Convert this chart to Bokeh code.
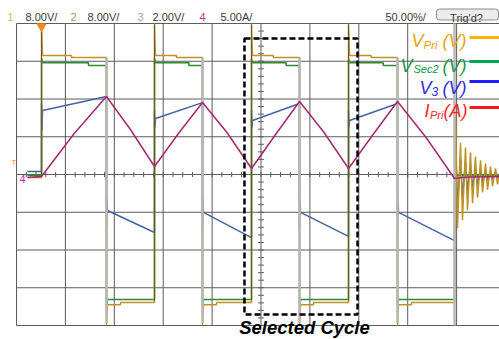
from bokeh.plotting import figure
from bokeh.models import Range1d, Label, BoxAnnotation
from bokeh.embed import file_html
from bokeh.resources import INLINE

# ---------------- data ----------------
us_per_div = 50.0
vpri_per_div = 8.0
vsec_per_div = 8.0
v3_per_div = 2.0
ipri_per_div = 5.0

header_channels = ["1", "2", "3", "4"]
header_scales = ["8.00V/", "8.00V/", "2.00V/", "5.00A/"]
timebase_text = "50.00%/"
trig_text = "Trig'd?"

# switching instants (us); segments alternate: high, low, high, low ...
trace_start = -238.8
seg_start = [-224.4, -158.0, -108.9, -59.8, -9.7, 39.4, 89.5, 139.6]
seg_end = [-158.0, -108.9, -59.8, -9.7, 39.4, 89.5, 139.6, 197.9]

# V_Pri (V)
vpri_pre = -0.64
vpri_spike = [32.0, -32.0, 32.0, -32.0, 32.0, -32.0, 32.0, -32.0]
vpri_lvl_a = [25.2, -27.6, 25.2, -27.6, 25.2, -27.6, 25.2, -27.6]
vpri_step_t = [-193.8, -143.7, -86.5, -45.5, 12.6, 53.7, 112.5, 153.9]
vpri_lvl_b = [24.8, -27.1, 24.8, -27.1, 24.8, -27.1, 24.8, -27.1]
ring_t = [198.9, 200.9, 204.0, 206.0, 209.1, 211.1, 214.2, 216.3, 219.3, 221.4,
          224.5, 226.5, 229.6, 231.6, 234.7, 236.7, 239.8, 241.8, 244.9]
vpri_ring = [12.5, -11.4, 6.8, -9.7, 5.7, -7.6, 4.7, -6.1, 3.8, -4.9,
             3.0, -3.8, 2.3, -3.2, 1.7, -2.5, 1.3, -2.1, 0.8]

# V_Sec2 (V)
vsec_pre = -0.21
vsec_spike = [24.6, -27.8, 24.6, -27.8, 24.6, -27.8, 24.6, -27.8]
vsec_lvl_a = [23.7, -26.5, 23.7, -26.5, 23.7, -26.5, 23.7, -26.5]
vsec_step_t = [-176.4, -133.0, -73.7, -35.0, 25.7, 64.0, 125.0, 168.0]
vsec_lvl_b = [23.1, -26.5, 23.1, -26.5, 23.1, -26.5, 23.1, -26.5]
vsec_tail = -0.21

# V_3 (V)
v3_pre = 0.16
v3_spike1 = [3.76, -2.86, 3.39, -2.86, 3.39, -2.86, 3.39, -2.86]
v3_spike2 = [2.33, -1.27, 2.49, -1.27, 2.49, -1.27, 2.49, -1.27]
v3_start = [3.39, -1.91, 2.97, -2.01, 2.86, -2.01, 2.86, -2.01]
v3_end = [4.13, -3.07, 3.81, -3.34, 3.76, -3.28, 3.76, -3.50]
v3_ring = [1.80, -1.64, 0.85, -1.17, 0.64, -0.90, 0.48, -0.69, 0.37, -0.53,
           0.26, -0.42, 0.21, -0.32, 0.16, -0.26, 0.11, -0.21, 0.05]

# I_Pri (A)
ipri_t = [-238.8, -224.4, -191.0, -158.0, -133.5, -108.9, -84.4, -59.8, -34.8, -9.7,
          14.9, 39.4, 64.5, 89.5, 114.6, 139.6, 168.8, 197.9, 205.0, 215.0, 245.0]
ipri_v = [-0.40, -0.26, 5.43, 10.33, 5.96, 1.06, 5.43, 9.54, 5.56, 0.79,
          5.30, 9.67, 5.56, 0.79, 5.30, 9.67, 4.90, -0.53, -0.40, -0.33, -0.26]

# selected cycle window (us)
sel_t0, sel_t1 = -16.9, 98.7

legend_names = [("V", "Pri", "(V)"), ("V", "Sec2", "(V)"), ("V", "3", "(V)"), ("I", "Pri", "(A)")]
legend_text_colors = ["#e5a50f", "#12984a", "#2c2ce6", "#ff2424"]
legend_line_colors = ["#f7b500", "#00a54f", "#1f1fff", "#ff1a1a"]
trace_colors = {"vpri": "#bf9226", "vsec": "#2c8c2c", "v3": "#4463a3", "ipri": "#a3296f"}

# ---------------- geometry helpers (reference pixel -> data) ----------------
W, H = 499, 339
XC, XD = 260.5, 48.9
YC, YD = 174.0, 37.75


def sx(px):
    return (px - XC) / XD * us_per_div


def sy(py):
    return (YC - py) / YD


def stepped(pre, spikes, lvl_a, step_t, lvl_b):
    xs, ys = [trace_start, seg_start[0]], [pre, pre]
    for i in range(len(seg_start)):
        t0, t1 = seg_start[i], seg_end[i]
        xs += [t0, t0 + 1.0, step_t[i], step_t[i], t1]
        ys += [spikes[i], lvl_a[i], lvl_a[i], lvl_b[i], lvl_b[i]]
    return xs, ys


p = figure(width=W, height=H, output_backend="svg", toolbar_location=None,
           x_range=Range1d(sx(0), sx(W)), y_range=Range1d(sy(H), sy(0)),
           min_border=0, x_axis_type=None, y_axis_type=None,
           outline_line_color=None, background_fill_color="white", border_fill_color="white")

# grid
gx = [k * us_per_div for k in range(-5, 6)]
p.segment(x0=gx, y0=[-4] * len(gx), x1=gx, y1=[4] * len(gx), line_color="#5c5c5c", line_width=1)
gy = list(range(-4, 5))
p.segment(x0=[-5 * us_per_div] * len(gy), y0=gy, x1=[5 * us_per_div] * len(gy), y1=gy,
          line_color="#5c5c5c", line_width=1)
# centre-line minor ticks
tx = [-250 + 10 * i for i in range(51)]
p.segment(x0=tx, y0=[-0.07] * len(tx), x1=tx, y1=[0.07] * len(tx), line_color="#5c5c5c", line_width=1)
ty = [-4 + 0.2 * i for i in range(41)]
p.segment(x0=[-3.0] * len(ty), y0=ty, x1=[3.0] * len(ty), y1=ty, line_color="#5c5c5c", line_width=1)

# traces
bx, by = [], []
bx += [trace_start, seg_start[0]]
by += [v3_pre, v3_pre]
for i in range(len(seg_start)):
    t0, t1 = seg_start[i], seg_end[i]
    bx += [t0, t0 + 0.5, t0 + 1.0, t1]
    by += [v3_spike1[i], v3_spike2[i], v3_start[i], v3_end[i]]
bx += ring_t
by += v3_ring
p.line(bx, [v / v3_per_div for v in by], line_color=trace_colors["v3"], line_width=1.5)

gxs, gys = stepped(vsec_pre, vsec_spike, vsec_lvl_a, vsec_step_t, vsec_lvl_b)
gxs += [seg_end[-1], ring_t[-1]]
gys += [vsec_tail, vsec_tail]
p.line(gxs, [v / vsec_per_div for v in gys], line_color=trace_colors["vsec"], line_width=1.5)

yxs, yys = stepped(vpri_pre, vpri_spike, vpri_lvl_a, vpri_step_t, vpri_lvl_b)
yxs += ring_t
yys += vpri_ring
p.line(yxs, [v / vpri_per_div for v in yys], line_color=trace_colors["vpri"], line_width=1.5)

# faint fast edges (falling) and dark rising edges
fall = [seg_start[i] for i in (1, 3, 5, 7)]
p.segment(x0=fall, y0=[sy(57)] * 4, x1=fall, y1=[sy(322)] * 4, line_color="#b8b8b8", line_width=2.5)
p.segment(x0=[seg_end[-1]], y0=[4], x1=[seg_end[-1]], y1=[-4], line_color="#b8b8b8", line_width=2.5)
rise = [seg_start[i] for i in (2, 4, 6)]
p.segment(x0=rise, y0=[sy(24)] * 3, x1=rise, y1=[sy(300)] * 3, line_color="#5e5a36", line_width=1)
p.segment(x0=[seg_start[0]], y0=[sy(24)], x1=[seg_start[0]], y1=[sy(176)], line_color="#5e5a36", line_width=1)

p.line(ipri_t, [v / ipri_per_div for v in ipri_v], line_color=trace_colors["ipri"], line_width=1.5)

# trigger marker
p.scatter(x=[seg_start[0]], y=[sy(26)], marker="inverted_triangle", size=9,
          fill_color="#f08a24", line_color="#f08a24")

# selected cycle box
p.add_layout(BoxAnnotation(left=sel_t0, right=sel_t1, top=sy(38), bottom=sy(314),
                           fill_alpha=0, line_color="black", line_alpha=1, line_width=2.5, line_dash="6 3"))
p.add_layout(Label(x=sx(304), y=sy(327), text="Selected Cycle", text_align="center",
                   text_baseline="alphabetic", text_font="Liberation Sans", text_font_size="18.5px",
                   text_font_style="bold italic", text_color="black"))

# header
hdr_num_x = [7, 70, 137, 199]
hdr_scale_x = [25, 87, 152, 220]
hdr_num_colors = ["#e3b648", "#6fb44f", "#93abc4", "#c43394"]
for i in range(4):
    p.add_layout(Label(x=sx(hdr_num_x[i]), y=sy(16.5), text=header_channels[i], text_font="Liberation Sans",
                       text_font_size="11px", text_color=hdr_num_colors[i], text_baseline="alphabetic"))
    p.add_layout(Label(x=sx(hdr_scale_x[i]), y=sy(16.5), text=header_scales[i], text_font="Liberation Sans",
                       text_font_size="11px", text_color="#3a3a3a", text_baseline="alphabetic"))
p.add_layout(Label(x=sx(385), y=sy(16.5), text=timebase_text, text_font="Liberation Sans",
                   text_font_size="11px", text_color="#3a3a3a", text_baseline="alphabetic"))
p.add_layout(BoxAnnotation(left=sx(436), right=sx(498), top=sy(8.5), bottom=sy(19.5),
                           fill_color="#ececec", fill_alpha=1, line_color="#8c8c8c", line_alpha=1,
                           line_width=1, border_radius=3))
p.add_layout(Label(x=sx(466), y=sy(17.5), text=trig_text, text_align="center", text_font="Liberation Sans",
                   text_font_size="11px", text_color="#3a3a3a", text_baseline="alphabetic"))

# left channel markers
p.add_layout(Label(x=sx(19), y=sy(178), text="4", text_font="Liberation Sans", text_font_size="11px",
                   text_color="#c43394", text_baseline="alphabetic"))
p.add_layout(Label(x=sx(11), y=sy(162), text="T", text_font="Liberation Sans", text_font_size="8px",
                   text_color="#f08a24", text_baseline="alphabetic"))

# legend (custom, with subscripts)
main_x = [411, 400, 419, 424]
sub_x = [423, 413, 431, 429.5]
tail_x = [442, 442, 442, 443]
main_base = [40, 65, 87, 110]
sub_base = [44.5, 68.5, 91, 114.5]
sub_size = ["11.5px", "11px", "12px", "11px"]
line_y = [37, 61, 81, 107]
for i, (m, s, t) in enumerate(legend_names):
    c = legend_text_colors[i]
    p.add_layout(Label(x=sx(main_x[i]), y=sy(main_base[i]), text=m, text_font="Liberation Sans",
                       text_font_size="18px", text_font_style="italic", text_color=c, text_baseline="alphabetic"))
    p.add_layout(Label(x=sx(sub_x[i]), y=sy(sub_base[i]), text=s, text_font="Liberation Sans",
                       text_font_size=sub_size[i], text_font_style="italic", text_color=c, text_baseline="alphabetic"))
    p.add_layout(Label(x=sx(tail_x[i]), y=sy(main_base[i]), text=t, text_font="Liberation Sans",
                       text_font_size="18px", text_font_style="italic", text_color=c, text_baseline="alphabetic"))
    p.add_layout(BoxAnnotation(left=sx(469), right=sx(500), top=sy(line_y[i] - 1.5), bottom=sy(line_y[i] + 1.5),
                               fill_color=legend_line_colors[i], fill_alpha=1, line_alpha=0))

open("out.html", "w").write(file_html(p, INLINE))
